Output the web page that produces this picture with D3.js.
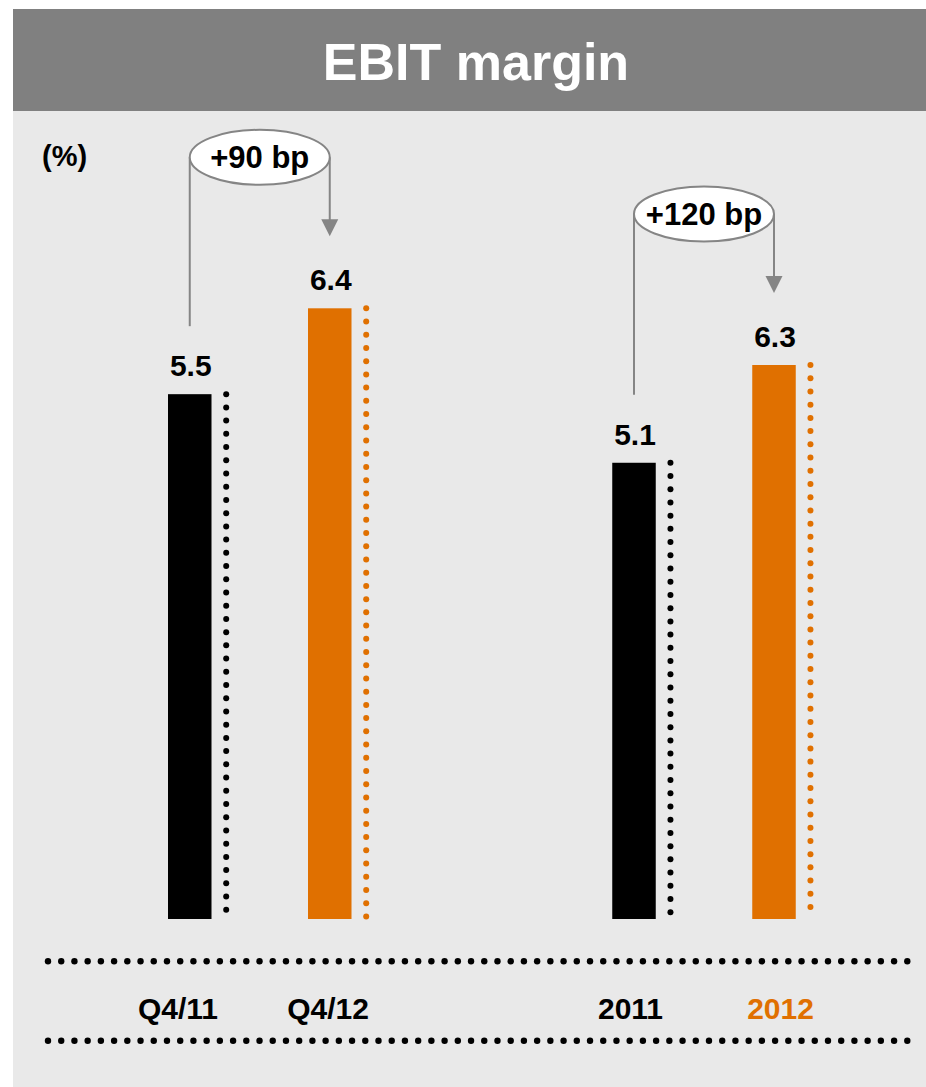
<!DOCTYPE html>
<html>
<head>
<meta charset="utf-8">
<script src="https://cdn.jsdelivr.net/npm/d3@7/dist/d3.min.js"></script>
<style>
  html, body { margin: 0; padding: 0; background: #ffffff; }
  svg { display: block; font-family: "Liberation Sans", Arial, Helvetica, sans-serif; }
</style>
</head>
<body>
<svg id="chart" width="926" height="1087"></svg>
<script>
// ---- data ----
const title = "EBIT margin";
const unitLabel = "(%)";
const categories = ["Q4/11", "Q4/12", "2011", "2012"];
const groups = ["quarter", "quarter", "year", "year"];
const values = [5.5, 6.4, 5.1, 6.3];
const deltaFrom = ["Q4/11", "2011"];
const deltaTo = ["Q4/12", "2012"];
const deltaLabels = ["+90 bp", "+120 bp"];

// ---- layout ----
const W = 926, H = 1087;
const svg = d3.select("#chart");
const baseY = 919;
const barW = 43.5;
const dotStep = 13.22;
const orange = "#e07000";
const grey = "#858585";

// background
svg.append("rect").attr("x", 0).attr("y", 0).attr("width", W).attr("height", H).attr("fill", "#ffffff");
svg.append("rect").attr("x", 13).attr("y", 110).attr("width", W - 13).attr("height", 1087 - 110).attr("fill", "#e9e9e9");
svg.append("rect").attr("x", 13).attr("y", 9).attr("width", W - 13).attr("height", 102).attr("fill", "#808080");
svg.append("text").attr("x", 476).attr("y", 80).attr("text-anchor", "middle")
  .attr("fill", "#ffffff").attr("font-size", 52).attr("font-weight", "bold").text(title);

svg.append("text").attr("x", 42).attr("y", 166).attr("font-size", 29).attr("font-weight", "bold")
  .attr("fill", "#000").text(unitLabel);

// scales
const groupKeys = ["quarter", "year"];
const outer = d3.scalePoint().domain(groupKeys).range([259.75, 704]);
const inner = d3.scalePoint().domain([0, 1]).range([-70, 70]);
const labelOuter = d3.scalePoint().domain(groupKeys).range([253, 705.5]);
const labelInner = d3.scalePoint().domain([0, 1]).range([-75, 75]);
const yScales = {
  quarter: d3.scaleLinear().domain([0, 6.4]).range([baseY, 308.3]),
  year: d3.scaleLinear().domain([-0.5, 6.3]).range([baseY, 365])
};
const barColor = d3.scaleOrdinal().domain(categories).range(["#000000", orange, "#000000", orange]);
const labelColor = d3.scaleOrdinal().domain(categories).range(["#000000", "#000000", "#000000", orange]);

const rows = categories.map((c, i) => {
  const g = groups[i];
  const idx = groups.slice(0, i).filter(x => x === g).length;
  return {
    cat: c, group: g, value: values[i],
    cx: outer(g) + inner(idx),
    lx: labelOuter(g) + labelInner(idx),
    y: yScales[g](values[i])
  };
});
const byCat = Object.fromEntries(rows.map(r => [r.cat, r]));

// bars
svg.append("g").selectAll("rect").data(rows).join("rect")
  .attr("x", d => d.cx - barW / 2)
  .attr("y", d => d.y)
  .attr("width", barW)
  .attr("height", d => baseY - d.y)
  .attr("fill", d => barColor(d.cat));

// dotted columns next to bars
rows.forEach(d => {
  svg.append("g").selectAll("circle").data(d3.range(d.y, baseY - 1, dotStep)).join("circle")
    .attr("cx", d.cx + barW / 2 + 14.7)
    .attr("cy", v => v)
    .attr("r", 3)
    .attr("fill", barColor(d.cat));
});

// value labels
svg.append("g").selectAll("text").data(rows).join("text")
  .attr("x", d => d.cx + 1)
  .attr("y", d => d.y - 18)
  .attr("text-anchor", "middle")
  .attr("font-size", 30)
  .attr("font-weight", "bold")
  .attr("fill", "#000")
  .text(d => d.value.toFixed(1));

// dotted horizontal rules
[961.3, 1040.7].forEach(yy => {
  svg.append("g").selectAll("circle").data(d3.range(48, 909, dotStep)).join("circle")
    .attr("cx", v => v).attr("cy", yy).attr("r", 3.2).attr("fill", "#000");
});

// category labels
svg.append("g").selectAll("text").data(rows).join("text")
  .attr("x", d => d.lx)
  .attr("y", 1019)
  .attr("text-anchor", "middle")
  .attr("font-size", 30)
  .attr("font-weight", "bold")
  .attr("fill", d => labelColor(d.cat))
  .text(d => d.cat);

// delta annotations
deltaLabels.forEach((lab, i) => {
  const a = byCat[deltaFrom[i]], b = byCat[deltaTo[i]];
  const cx = (a.cx + b.cx) / 2;
  const rx = (b.cx - a.cx) / 2;
  const cy = b.y - 151;
  const tipY = b.y - 72;
  const g = svg.append("g");
  g.append("line").attr("x1", a.cx).attr("x2", a.cx).attr("y1", cy).attr("y2", a.y - 68)
    .attr("stroke", grey).attr("stroke-width", 2);
  g.append("line").attr("x1", b.cx).attr("x2", b.cx).attr("y1", cy).attr("y2", tipY - 16)
    .attr("stroke", grey).attr("stroke-width", 2);
  g.append("path")
    .attr("d", `M${b.cx - 8.5},${tipY - 17}L${b.cx + 8.5},${tipY - 17}L${b.cx},${tipY}Z`)
    .attr("fill", grey);
  g.append("ellipse").attr("cx", cx).attr("cy", cy).attr("rx", rx).attr("ry", 27.5)
    .attr("fill", "#ffffff").attr("stroke", grey).attr("stroke-width", 2);
  g.append("text").attr("x", cx).attr("y", cy + 11).attr("text-anchor", "middle")
    .attr("font-size", 31).attr("font-weight", "bold").attr("fill", "#000").text(lab);
});
</script>
</body>
</html>
